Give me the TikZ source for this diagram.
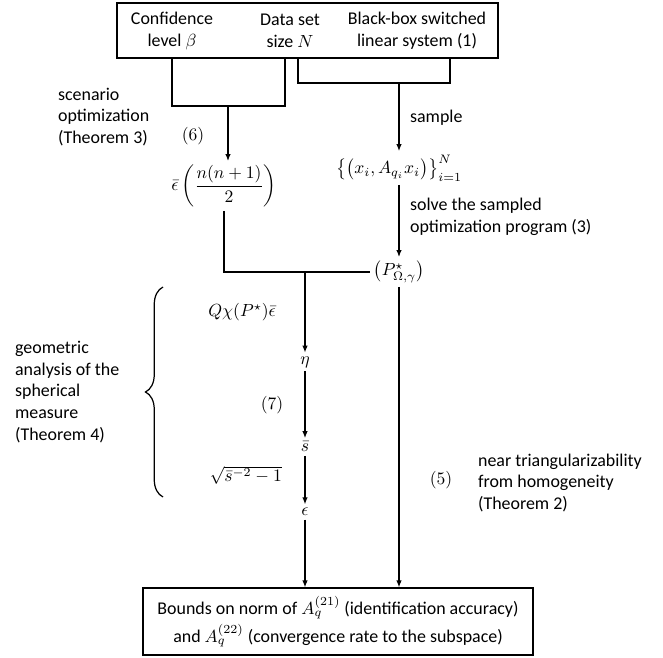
\documentclass[tikz,border=0pt]{standalone}
\usepackage{fontspec}
\setmainfont{Carlito}
\usepackage{amsmath}
\usetikzlibrary{arrows.meta,calc,decorations.pathreplacing}
\tikzset{
  blk/.style = {draw, line width=0.7pt, inner sep=0pt},
  txt/.style = {align=center, inner sep=1pt},
  lbl/.style = {align=left, inner sep=1pt, anchor=west},
  mth/.style = {inner sep=2pt},
  ar/.style  = {-{Latex[length=1.4mm,width=1.1mm]}, line width=0.7pt},
  ln/.style  = {line width=0.7pt},
}

\begin{document}
\begin{tikzpicture}[x=0.02cm, y=-0.02cm, font=\fontsize{10.2}{12.4}\selectfont]
\useasboundingbox (0,0) rectangle (663,658);
% inputs
\node[blk, minimum width=7.62cm, minimum height=1.1cm] (top) at (307.5,30.5) {};
\node[txt] (conf) at (172,31) {Confidence\\level $\beta$};
\node[txt] (size) at (290,31) {Data set\\size $N$};
\node[txt] (sys) at (417,31) {Black-box switched\\linear system (1)};
\coordinate (t2) at (285,0);
\coordinate (t3) at (298,0);
\coordinate (t4) at (450,0);
\coordinate (j1) at (228,106);
\coordinate (j2) at (399,83);
\coordinate (j3) at (305,272);
% main chain
\node[mth] (epsb) at (224,186) {$\bar{\epsilon}\left(\dfrac{n(n+1)}{2}\right)$};
\node[mth] (data) at (399,168) {$\bigl\{\bigl(x_i,A_{q_i}x_i\bigr)\bigr\}_{i=1}^{N}$};
\node[mth] (popt) at (399,272) {$\bigl(P^{\star}_{\Omega,\gamma}\bigr)$};
\node[mth] (eta) at (305,362) {$\eta$};
\node[mth] (sbar) at (305,447) {$\bar{s}$};
\node[mth] (eps) at (305,512) {$\epsilon$};
\node[blk, txt, minimum width=7.8cm, minimum height=1.34cm] (bounds) at (338,621.5)
     {Bounds on norm of $A_q^{(21)}$ (identification accuracy)\\[2pt]
      and $A_q^{(22)}$ (convergence rate to the subspace)};
\draw[ln] (conf |- top.south) |- (j1) -| (t2 |- top.south);
\draw[ln] (t3 |- top.south) |- (j2) -| (t4 |- top.south);
\draw[ar] (j1) -- (j1 |- epsb.north);
\draw[ar] (j2) -- (data.north);
\draw[ar] (data) -- (popt);
\draw[ln] (epsb) |- (popt);
\draw[ar] (j3) -- (eta);
\draw[ar] (eta) -- (sbar);
\draw[ar] (sbar) -- (eps);
\draw[ar] (eps) -- (eps |- bounds.north);
\draw[ar] (popt) -- (popt |- bounds.north);
% labels
\node[lbl] (scen) at (56,117) {scenario\\optimization\\(Theorem 3)};
\node (eq6) at (193,136) {$(6)$};
\node[lbl] (samp) at (408,118) {sample};
\node[lbl] (solve) at (408,217) {solve the sampled\\optimization program (3)};
\node[anchor=east] (qchi) at (282,312) {$Q\chi(P^{\star})\bar{\epsilon}$};
\node (eq7) at (272,405) {$(7)$};
\node[anchor=east] (sq) at (288,475) {$\sqrt{\bar{s}^{-2}-1}$};
\node (eq5) at (441,480) {$(5)$};
\node[lbl] (near) at (476,483) {near triangularizability\\from homogeneity\\(Theorem 2)};
\node[lbl] (geo) at (13,392) {geometric\\analysis of the\\spherical\\measure\\(Theorem 4)};
\coordinate (bt) at (163,287);
\coordinate (bb) at (163,497);
\draw[ln, decorate, decoration={brace, amplitude=0.35cm}] (bb) -- (bt);
\end{tikzpicture}
\end{document}
